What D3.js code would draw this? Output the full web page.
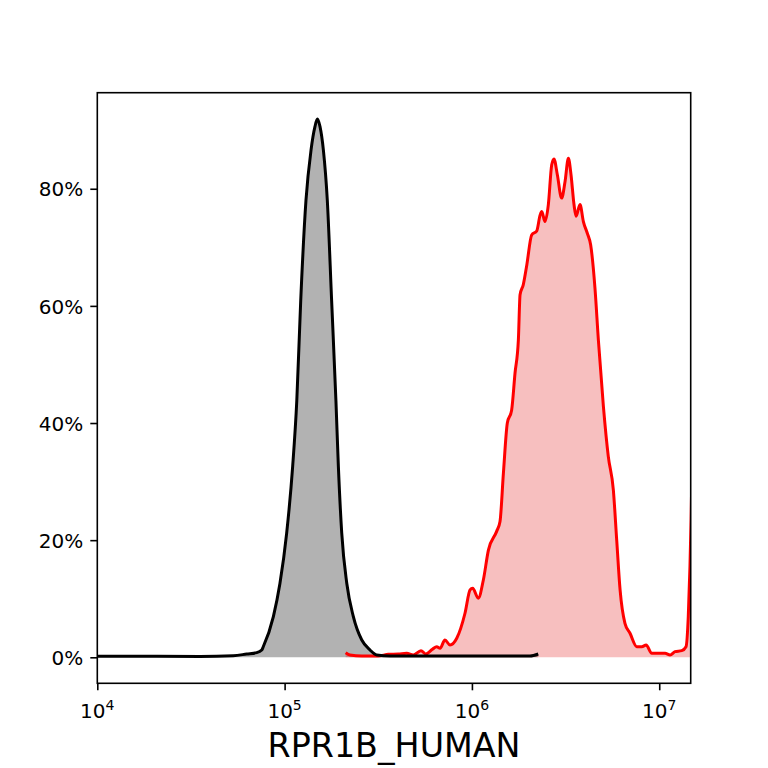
<!DOCTYPE html>
<html lang="en">
<head>
    <meta charset="UTF-8">
    <title>RPR1B_HUMAN</title>
    <style>
        body { margin: 0; background: #fff; }
        svg { display: block; font-family: "DejaVu Sans", sans-serif; }
        .tick-label { font-size: 20px; fill: #000; font-family: "DejaVu Sans", sans-serif; }
        .axis-title { font-size: 33.3px; fill: #000; text-anchor: middle; }
    </style>
</head>
<body>
    <svg id="chart" width="768" height="768"></svg>

    <script src="https://d3js.org/d3.v7.min.js"></script>
    <script>
        // x values are log10 of the intensity, y values are percent of max
        const controlLog = [4.000, 4.281, 4.548, 4.726, 4.798, 4.851, 4.878, 4.886, 4.940, 4.975,
                            5.011, 5.043, 5.065, 5.086, 5.114, 5.141, 5.162, 5.175, 5.189, 5.207,
                            5.228, 5.251, 5.274, 5.287, 5.305, 5.332, 5.367, 5.412, 5.456, 5.492,
                            5.563, 5.723, 5.883, 6.150, 6.310, 6.354];
        const controlPct = [0.17, 0.17, 0.15, 0.27, 0.56, 0.79, 1.25, 1.80, 6.95, 12.6,
                            21.2, 32.6, 43.8, 60.9, 78.0, 86.6, 90.6, 91.9, 90.6, 86.6,
                            78.0, 60.9, 43.8, 32.6, 21.2, 12.6, 6.95, 2.95, 1.25, 0.39,
                            0.22, 0.20, 0.22, 0.20, 0.22, 0.56];

        const stainedLog = [5.326, 5.349, 5.412, 5.500, 5.554, 5.607, 5.652, 5.687, 5.728, 5.753,
                            5.789, 5.812, 5.830, 5.856, 5.883, 5.919, 5.963, 5.990, 6.004, 6.034,
                            6.061, 6.088, 6.132, 6.150, 6.168, 6.189, 6.212, 6.230, 6.248, 6.257,
                            6.274, 6.293, 6.319, 6.346, 6.364, 6.373, 6.390, 6.408, 6.426, 6.438,
                            6.456, 6.479, 6.497, 6.515, 6.529, 6.545, 6.556, 6.577, 6.595, 6.616,
                            6.634, 6.657, 6.675, 6.702, 6.728, 6.755, 6.773, 6.791, 6.817, 6.844,
                            6.880, 6.907, 6.930, 6.960, 7.004, 7.031, 7.058, 7.084, 7.120, 7.143,
                            7.155, 7.164, 7.170, 7.180];
        const stainedPct = [0.79, 0.39, 0.22, 0.22, 0.51, 0.56, 0.68, 0.39, 1.13, 0.56,
                            1.37, 1.81, 1.54, 2.95, 2.10, 3.25, 7.52, 11.5, 11.8, 10.1,
                            13.2, 18.3, 21.5, 23.2, 31.4, 40.0, 42.2, 48.5, 54.2, 61.9,
                            63.6, 67.0, 72.1, 72.8, 75.5, 76.1, 74.4, 77.3, 84.1, 85.1,
                            82.4, 78.4, 81.2, 85.2, 82.4, 77.3, 75.3, 77.3, 74.4, 72.4,
                            70.4, 63.0, 54.2, 42.8, 34.3, 28.6, 20.0, 11.5, 5.81, 4.10,
                            1.81, 1.81, 2.10, 0.68, 0.68, 0.68, 0.39, 0.96, 1.13, 1.81,
                            6.93, 15.5, 23.5, 42.0];

        const xTickExps = [4, 5, 6, 7];
        const yTicks = [0, 20, 40, 60, 80];
        const xLabel = "RPR1B_HUMAN";

        const width = 768;
        const height = 768;
        const margin = { top: 92.7, right: 77.3, bottom: 84.7, left: 97.3 };
        const innerW = width - margin.left - margin.right;
        const innerH = height - margin.top - margin.bottom;

        const x = d3.scaleLog()
            .domain([1e4, Math.pow(10, 7.168)])
            .range([0, innerW]);
        const y = d3.scaleLinear()
            .domain([-4.44, 96.4])
            .range([innerH, 0]);

        const svg = d3.select("#chart");
        const g = svg.append("g").attr("transform", `translate(${margin.left},${margin.top})`);

        g.append("clipPath").attr("id", "plot-clip")
            .append("rect").attr("width", innerW).attr("height", innerH);

        const toPoints = (xs, ys) => xs.map((v, i) => [Math.pow(10, v), ys[i]]);
        const control = toPoints(controlLog, controlPct);
        const stained = toPoints(stainedLog, stainedPct);

        const area = d3.area()
            .x(d => x(d[0]))
            .y0(y(0))
            .y1(d => y(d[1]))
            .curve(d3.curveMonotoneX);
        const line = d3.line()
            .x(d => x(d[0]))
            .y(d => y(d[1]))
            .curve(d3.curveMonotoneX);

        const plot = g.append("g").attr("clip-path", "url(#plot-clip)");

        plot.append("path").datum(control)
            .attr("d", area)
            .attr("fill", "#000").attr("fill-opacity", 0.3);
        plot.append("path").datum(stained)
            .attr("d", area)
            .attr("fill", "#e00000").attr("fill-opacity", 0.25);
        plot.append("path").datum(stained)
            .attr("d", line)
            .attr("fill", "none").attr("stroke", "#ff0000")
            .attr("stroke-width", 3).attr("stroke-linejoin", "round");
        plot.append("path").datum(control)
            .attr("d", line)
            .attr("fill", "none").attr("stroke", "#000")
            .attr("stroke-width", 3).attr("stroke-linejoin", "round");

        // Axes
        const xAxis = d3.axisBottom(x)
            .tickValues(xTickExps.map(e => Math.pow(10, e)))
            .tickSize(7).tickPadding(7)
            .tickFormat("");
        const xg = g.append("g").attr("transform", `translate(0,${innerH})`).call(xAxis);

        const yAxis = d3.axisLeft(y)
            .tickValues(yTicks)
            .tickSize(7).tickPadding(7)
            .tickFormat(d => d + "%");
        const yg = g.append("g").call(yAxis);

        [xg, yg].forEach(a => {
            a.attr("font-size", null).attr("font-family", null);
            a.select(".domain").remove();
            a.selectAll(".tick line").attr("stroke", "#000").attr("stroke-width", 1.6);
        });
        yg.selectAll(".tick text")
            .attr("class", "tick-label")
            .attr("dy", "0.36em");

        // exponent labels like 10^4
        xTickExps.forEach(e => {
            const t = g.append("text")
                .attr("class", "tick-label")
                .attr("x", x(Math.pow(10, e)))
                .attr("y", innerH + 34.7)
                .attr("text-anchor", "middle");
            t.append("tspan").text("10");
            t.append("tspan")
                .attr("dy", "-8")
                .attr("font-size", "14px")
                .text(e);
        });

        // frame
        g.append("rect")
            .attr("width", innerW).attr("height", innerH)
            .attr("fill", "none").attr("stroke", "#000").attr("stroke-width", 1.6);

        g.append("text")
            .attr("class", "axis-title")
            .attr("x", innerW / 2)
            .attr("y", innerH + 73.5)
            .text(xLabel);
    </script>
</body>
</html>
